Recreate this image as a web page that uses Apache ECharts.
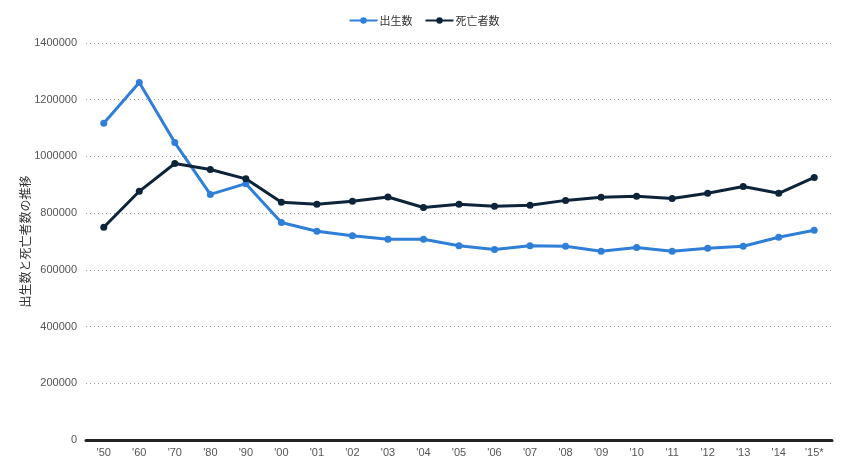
<!DOCTYPE html>
<html><head><meta charset="utf-8">
<script src="https://cdn.jsdelivr.net/npm/echarts@6/dist/echarts.min.js"></script>
<style>html,body{margin:0;padding:0;background:#fff}#c{width:848px;height:467px}</style>
</head><body><div id="c"></div>
<script>
const categories = ["'50","'60","'70","'80","'90","'00","'01","'02","'03","'04","'05","'06","'07","'08","'09","'10","'11","'12","'13","'14","'15*"];
const births = [1117000,1261000,1049000,866000,904000,767000,736000,720000,708000,708000,685000,672000,685000,683000,666000,679000,666000,676000,683000,715000,740000];
const deaths = [750000,877000,975000,954000,921000,838000,831000,842000,857000,820000,831000,824000,828000,845000,856000,860000,852000,870000,894000,870000,926000];
const yTicks = {min:0, max:1400000, interval:200000};
const chart = echarts.init(document.getElementById('c'));
const ff = 'Liberation Sans, Arial, sans-serif';
chart.setOption({
  animation:false,
  textStyle:{fontFamily:ff},
  color:['#2f7ed8','#0d233a'],
  legend:{top:10,left:'center',itemWidth:28,itemHeight:8,itemGap:12,
    textStyle:{fontSize:11,color:'#333',fontFamily:'Noto Sans CJK JP',padding:[0,0,0,-3]},
    data:['出生数','死亡者数']},
  grid:{left:86,right:16,top:43,bottom:27,containLabel:false},
  xAxis:{type:'category',data:categories,boundaryGap:true,
    axisLine:{lineStyle:{color:'#222',width:3}},
    axisTick:{show:false},
    axisLabel:{color:'#555',fontSize:11,margin:7}},
  yAxis:{type:'value',min:yTicks.min,max:yTicks.max,interval:yTicks.interval,
    name:'出生数と死亡者数の推移',nameLocation:'middle',nameGap:55,nameMoveOverlap:false,
    nameTextStyle:{color:'#333',fontSize:12,fontFamily:'Noto Sans CJK JP'},
    axisLine:{show:false},axisTick:{show:false},
    axisLabel:{color:'#555',fontSize:11,margin:9,formatter:function(v){return String(v);}},
    splitLine:{lineStyle:{color:'#999',type:[1,3],width:1}}},
  series:[
    {name:'出生数',type:'line',data:births,symbol:'circle',symbolSize:7,
     lineStyle:{width:3},itemStyle:{color:'#2f7ed8'}},
    {name:'死亡者数',type:'line',data:deaths,symbol:'circle',symbolSize:7,
     lineStyle:{width:3},itemStyle:{color:'#0d233a'}}
  ]
});
</script></body></html>
